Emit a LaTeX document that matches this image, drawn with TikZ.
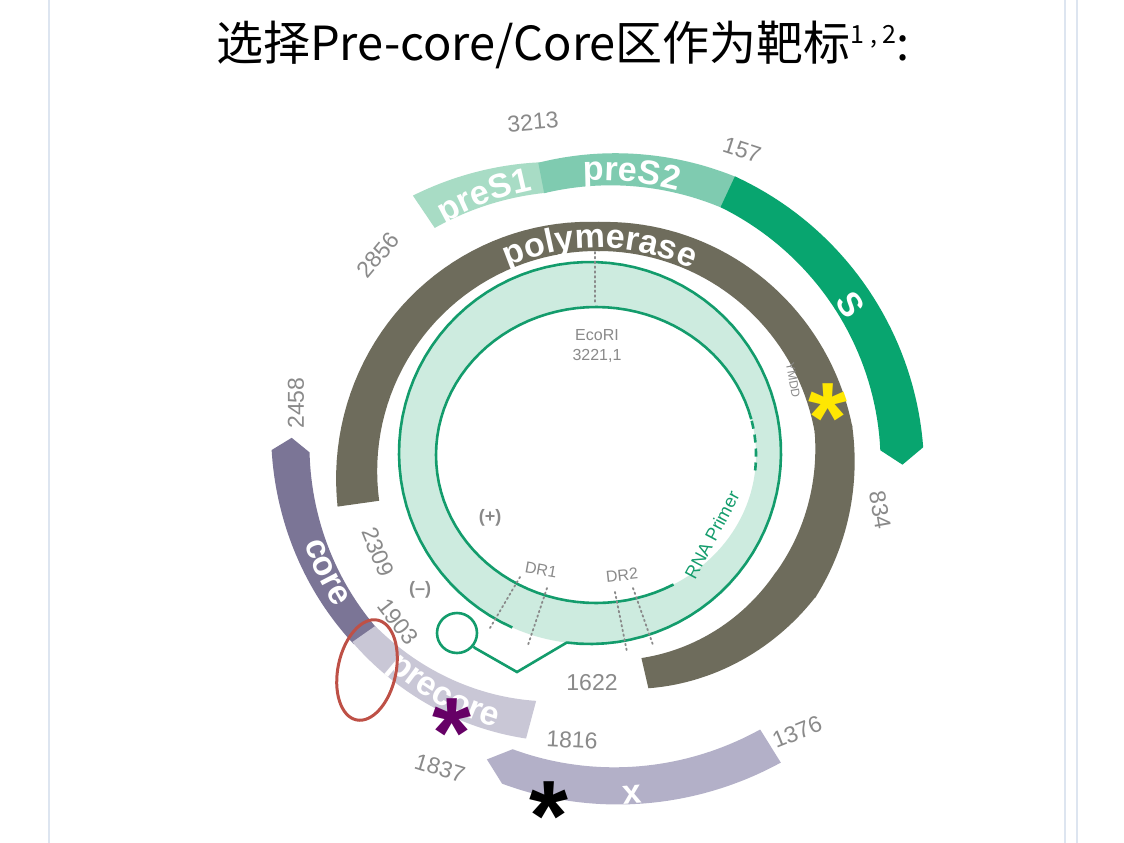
\documentclass[tikz,border=0pt]{standalone}
\usepackage{fontspec}
\setmainfont{Liberation Sans}
\newfontfamily\cjkfont{Noto Sans CJK SC}
\newfontfamily\bandfont{Liberation Sans}
\usetikzlibrary{decorations.text,shapes.geometric}
\definecolor{polycol}{HTML}{6E6C5C}
\definecolor{preSone}{HTML}{A8DCC5}
\definecolor{preStwo}{HTML}{7FCBB0}
\definecolor{Scol}{HTML}{08A56F}
\definecolor{mint}{HTML}{CDEBDF}
\definecolor{strand}{HTML}{139C6C}
\definecolor{corecol}{HTML}{7B7596}
\definecolor{precorecol}{HTML}{C9C7D6}
\definecolor{xcol}{HTML}{B3B0C8}
\definecolor{numgray}{HTML}{8A8A8A}
\definecolor{framecol}{HTML}{DDE5F0}
\def\cx{598}
\def\cy{470}
% band: colour, a1, a2, ri1, ro1, ri2, ro2, tip1, tip2
\newcommand\band[9]{%
  \fill[#1] plot[domain=#2:#3,samples=40]
      ({\cx+(#5+(#7-#5)*(\x-#2)/(#3-#2))*cos(\x)},{\cy-(#5+(#7-#5)*(\x-#2)/(#3-#2))*sin(\x)})
    -- ({\cx+(#6+#7)/2*cos(#3+#9)},{\cy-(#6+#7)/2*sin(#3+#9)})
    -- plot[domain=#3:#2,samples=40]
      ({\cx+(#4+(#6-#4)*(\x-#2)/(#3-#2))*cos(\x)},{\cy-(#4+(#6-#4)*(\x-#2)/(#3-#2))*sin(\x)})
    -- ({\cx+(#4+#5)/2*cos(#2+#8)},{\cy-(#4+#5)/2*sin(#2+#8)}) -- cycle;}
% text along a band: a1, a2, r1, r2, text
\newcommand\bandtext[5]{%
  \path[decorate,decoration={text along path,text align=center,text color=white,
      text={|\bandfont\bfseries\fontsize{34}{34}\selectfont|#5}}]
    plot[domain=#1:#2,samples=40]
      ({\cx+(#3+(#4-#3)*(\x-#1)/(#2-#1))*cos(\x)},{\cy-(#3+(#4-#3)*(\x-#1)/(#2-#1))*sin(\x)});}
\tikzset{
  num/.style={text=numgray,font=\fontsize{23}{23}\selectfont,inner sep=0pt},
  small/.style={text=numgray,font=\fontsize{16}{16}\selectfont,inner sep=0pt},
  strandline/.style={draw=strand,line width=2.6pt},
  marker/.style={dash pattern=on 1.6pt off 3.2pt,line cap=round,draw=numgray,line width=1.8pt},
  starmark/.style={font=\bfseries\fontsize{100}{100}\selectfont,inner sep=0pt,anchor=base}
}
\begin{document}
\begin{tikzpicture}[x=1pt,y=-1pt]
\useasboundingbox (0,0) rectangle (1124,843);
\fill[white] (0,0) rectangle (1124,843);
\foreach \fx in {49,1065,1077}
  \draw[framecol,line width=2pt] (\fx,0) -- (\fx,843);

\node (title) at (563,45) {\cjkfont\fontsize{47}{47}\selectfont 选择Pre-core/Core区作为靶标\raisebox{17pt}{\fontsize{25}{25}\selectfont 1 , 2}:};

% outer bands
\band{preSone}{124}{100.5}{292}{331}{282}{313}{0}{0}
\band{preStwo}{101}{64.5}{282}{313}{290}{324}{0}{0}
\band{Scol}{65}{4}{290}{324}{283}{326}{0}{-3}
\band{corecol}{176.5}{215.5}{289}{327}{272}{300}{-2.5}{0}
\band{precorecol}{215}{255}{272}{300}{239}{278}{0}{0}
\band{xcol}{253}{302}{292}{328}{306}{345}{-4}{0}

% polymerase
\band{polycol}{188}{89.5}{221}{263}{219}{248}{0}{0}
\band{polycol}{90}{9.5}{219}{248}{220}{258}{0}{0}
\band{polycol}{10}{-30.5}{220}{258}{205}{252}{0}{0}
\band{polycol}{-30}{-77}{205}{252}{193}{224}{0}{0}

\bandtext{124}{101}{291}{287}{preS1}
\bandtext{101}{66}{289}{291}{preS2}
\bandtext{117}{62}{222}{222}{polymerase}
\bandtext{183}{219}{307}{292}{core}
\bandtext{214}{258}{293}{273}{precore}
\node[text=white,font=\bandfont\bfseries\fontsize{34}{34}\selectfont,rotate=-57] (Slabel) at (850,305) {S};
\node[text=white,font=\bandfont\bfseries\fontsize{34}{34}\selectfont,rotate=5] (xlabel) at (632,795) {x};

% genome rings
\fill[mint,even odd rule] (590,453) circle[radius=191] (596,455) ellipse[x radius=160,y radius=148];
\coordinate (kinkA) at (517,672);
\coordinate (kinkB) at (475,648);
\node[circle,draw=strand,line width=2.6pt,minimum size=40pt,inner sep=0pt] (loop) at (457,633) {};
\draw[strandline] plot[domain=246:-97,samples=90] ({590+191*cos(\x)},{453-191*sin(\x)})
  -- (kinkA) -- (kinkB) -- (loop);
\draw[strandline] plot[domain=14:299,samples=80] ({596+160*cos(\x)},{455-148*sin(\x)});
\draw[strandline,dash pattern=on 8pt off 6pt] plot[domain=-6:14,samples=20] ({596+160*cos(\x)},{455-148*sin(\x)});

% markers
\draw[marker] (595,252) -- (595,304);
\draw[marker] (520,577) -- (490,628);
\draw[marker] (547,588) -- (528,645);
\draw[marker] (615,592) -- (627,652);
\draw[marker] (633,588) -- (653,645);

\node[small] (ecori) at (597,335) {EcoRI};
\node[small] (ecoripos) at (597,356) {3221,1};
\node[small,rotate=-10] (drone) at (541,570) {DR1};
\node[small,rotate=6] (drtwo) at (622,575) {DR2};
\node[text=numgray,font=\bfseries\fontsize{18}{18}\selectfont] (plus) at (490,518) {(+)};
\node[text=numgray,font=\bfseries\fontsize{18}{18}\selectfont] (minus) at (420,590) {(–)};
\node[text=strand,font=\fontsize{18}{18}\selectfont,rotate=62] (primer) at (712,535) {RNA Primer};
\node[text=numgray,font=\fontsize{12}{12}\selectfont,rotate=-80] (ymdd) at (793,380) {YMDD};

% positions
\node[num,rotate=5] (pA) at (533,122) {3213};
\node[num,rotate=-18] (pB) at (742,150) {157};
\node[num,rotate=50] (pC) at (378,255) {2856};
\node[num,rotate=90] (pD) at (296,403) {2458};
\node[num,rotate=-80] (pE) at (880,510) {834};
\node[num,rotate=-68] (pF) at (378,552) {2309};
\node[num,rotate=-52] (pG) at (398,622) {1903};
\node[num] (pH) at (592,683) {1622};
\node[num,rotate=-3] (pI) at (572,740) {1816};
\node[num,rotate=-17] (pJ) at (440,768) {1837};
\node[num,rotate=22] (pK) at (797,732) {1376};

% stars and highlight
\node[starmark,text=yellow!90!orange] (ystar) at (828,452) {*};
\node[starmark,text=violet!80!black] (pstar) at (452,767) {*};
\node[starmark,text=black] (kstar) at (549,850) {*};
\node[ellipse,draw={rgb,255:red,190;green,80;blue,70},line width=3pt,minimum width=58pt,minimum height=102pt,rotate=-12] (oval) at (367,670) {};
\end{tikzpicture}
\end{document}
